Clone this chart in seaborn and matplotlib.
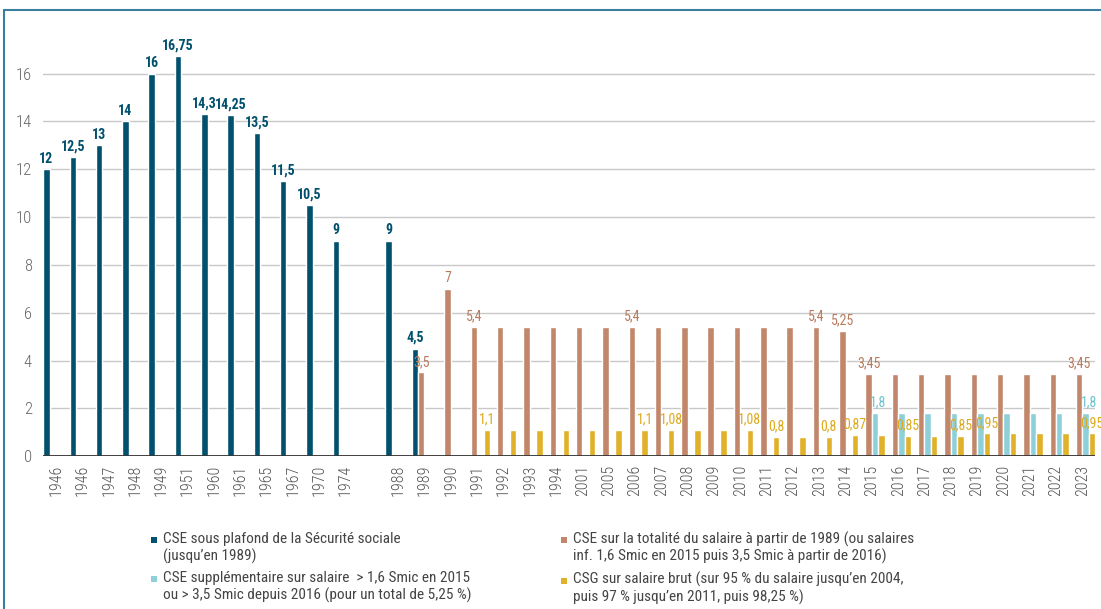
import numpy as np
import pandas as pd
import matplotlib
matplotlib.use('Agg')
import matplotlib.pyplot as plt
from matplotlib.lines import Line2D
from matplotlib.path import Path
import seaborn as sns

nan = np.nan

years = ["1946", "1946", "1947", "1948", "1949", "1951", "1960", "1961", "1965",
         "1967", "1970", "1974", "", "1988", "1989", "1990", "1991", "1992",
         "1993", "1994", "2001", "2005", "2006", "2007", "2008", "2009", "2010",
         "2011", "2012", "2013", "2014", "2015", "2016", "2017", "2018", "2019",
         "2020", "2021", "2022", "2023"]

cse_plafond = [12, 12.5, 13, 14, 16, 16.75, 14.3, 14.25, 13.5, 11.5, 10.5, 9,
               nan, 9, 4.5, nan, nan, nan, nan, nan, nan, nan, nan, nan, nan,
               nan, nan, nan, nan, nan, nan, nan, nan, nan, nan, nan, nan, nan,
               nan, nan]
cse_totalite = [nan, nan, nan, nan, nan, nan, nan, nan, nan, nan, nan, nan,
                nan, nan, 3.5, 7, 5.4, 5.4, 5.4, 5.4, 5.4, 5.4, 5.4, 5.4, 5.4,
                5.4, 5.4, 5.4, 5.4, 5.4, 5.25, 3.45, 3.45, 3.45, 3.45, 3.45,
                3.45, 3.45, 3.45, 3.45]
cse_supp = [nan, nan, nan, nan, nan, nan, nan, nan, nan, nan, nan, nan, nan,
            nan, nan, nan, nan, nan, nan, nan, nan, nan, nan, nan, nan, nan,
            nan, nan, nan, nan, nan, 1.8, 1.8, 1.8, 1.8, 1.8, 1.8, 1.8, 1.8, 1.8]
csg = [nan, nan, nan, nan, nan, nan, nan, nan, nan, nan, nan, nan, nan, nan,
       nan, nan, 1.1, 1.1, 1.1, 1.1, 1.1, 1.1, 1.1, 1.08, 1.08, 1.08, 1.08,
       0.8, 0.8, 0.8, 0.87, 0.87, 0.85, 0.85, 0.85, 0.95, 0.95, 0.95, 0.95, 0.95]

series_names = ["CSE sous plafond de la Sécurité sociale\n(jusqu’en 1989)",
                "CSE sur la totalité du salaire à partir de 1989 (ou salaires\n"
                "inf. 1,6 Smic en 2015 puis 3,5 Smic à partir de 2016)",
                "CSE supplémentaire sur salaire  > 1,6 Smic en 2015\n"
                "ou > 3,5 Smic depuis 2016 (pour un total de 5,25 %)",
                "CSG sur salaire brut (sur 95 % du salaire jusqu’en 2004,\n"
                "puis 97 % jusqu’en 2011, puis 98,25 %)"]
colors = ["#00506e", "#c2876a", "#8ed0da", "#e2b12a"]
label_colors = ["#00506e", "#b97a5c", "#6cc3d2", "#dcaa1e"]

# which bars carry a value label (None = all of them)
labelled = [None,
            ["1989", "1990", "1991", "2006", "2013", "2014", "2015", "2023"],
            ["2015", "2023"],
            ["1991", "2006", "2007", "2010", "2011", "2013", "2014", "2016",
             "2018", "2019", "2023"]]

rows = []
for name, vals in zip(series_names, [cse_plafond, cse_totalite, cse_supp, csg]):
    for i, v in enumerate(vals):
        if not np.isnan(v):
            rows.append({"pos": i, "serie": name, "val": v})
df = pd.DataFrame(rows)

sns.set_style("white")
plt.rcParams['font.family'] = ['Roboto Condensed', 'Roboto', 'DejaVu Sans']

fig = plt.figure(figsize=(11.01, 6.09), dpi=100)
ax = fig.add_axes([0.039, 0.251, 0.956, 0.683])

sns.barplot(data=df, x="pos", y="val", hue="serie", order=list(range(len(years))),
            hue_order=series_names, palette=colors, width=0.98, saturation=1,
            dodge=True, legend=False, ax=ax, zorder=3)

ax.set_ylim(0, 17.4)
ax.set_xlim(-0.5, len(years) - 0.5)
ax.set_yticks(range(0, 17, 2))
ax.set_xticks(range(len(years)))
ax.set_xticklabels(years, rotation=90, fontsize=11.5, color="#555555",
                   fontweight="light")
for t in ax.get_yticklabels():
    t.set_fontweight("light")
ax.tick_params(axis="y", labelsize=12, labelcolor="#666666", length=0, pad=8)
ax.tick_params(axis="x", length=0, pad=6)
ax.set_xlabel("")
ax.set_ylabel("")
for sp in ax.spines.values():
    sp.set_visible(False)
ax.grid(axis="y", color="#c8c8c8", linewidth=1)
ax.set_axisbelow(True)
ax.axhline(0, color="#333333", linewidth=1.3, zorder=4)

for k, cont in enumerate(ax.containers):
    for bar in cont:
        h = bar.get_height()
        if np.isnan(h) or h == 0:
            continue
        idx = int(round(bar.get_x() + bar.get_width() / 2))
        if labelled[k] is not None and years[idx] not in labelled[k]:
            continue
        txt = f"{h:g}".replace(".", ",")
        # cyan labels sit a little to the right in the original
        dx = 0.12 if k == 2 else 0
        ax.text(bar.get_x() + bar.get_width() / 2 + dx, h + 0.15, txt,
                ha="center", va="bottom", fontsize=10,
                fontweight="bold" if k == 0 else "normal",
                color=label_colors[k], zorder=5, clip_on=False)

# legend square sits on the first text line
sq = Path([(-0.37, 0.63), (0.37, 0.63), (0.37, 1.37), (-0.37, 1.37), (-0.37, 0.63)])
handles = [Line2D([], [], marker=sq, linestyle="", markersize=16,
                  markeredgewidth=0, color=c) for c in colors]
order = [0, 2, 1, 3]
fig.legend([handles[i] for i in order], [series_names[i] for i in order],
           ncol=2, loc="upper left", bbox_to_anchor=(0.124, 0.15),
           frameon=False, fontsize=11, handlelength=0.5, handletextpad=0.35,
           columnspacing=5.8, labelspacing=0.5, labelcolor="#444444")

# outer frame
fig.add_artist(Line2D([0.004, 1.0], [0.983, 0.983], color="#3a7f9f", linewidth=1.5))
fig.add_artist(Line2D([0.004, 0.004], [0.0, 0.983], color="#3a7f9f", linewidth=1.5))

fig.savefig("out.png", dpi=100)
